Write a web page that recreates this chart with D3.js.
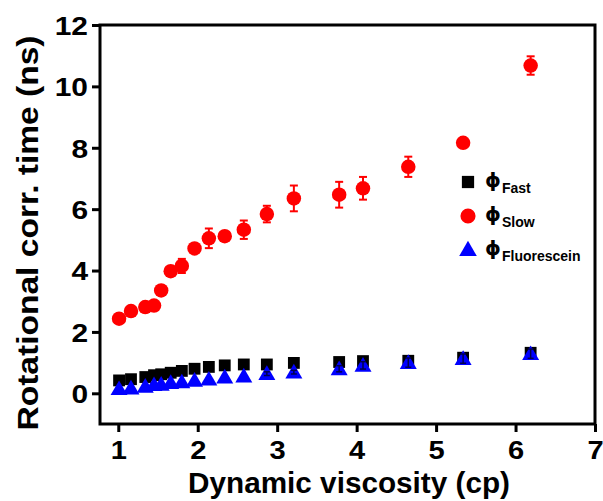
<!DOCTYPE html>
<html>
<head>
<meta charset="utf-8">
<script src="https://cdn.jsdelivr.net/npm/d3@7"></script>
<style>
  html, body { margin: 0; padding: 0; background: #fff; }
  svg { display: block; }
</style>
</head>
<body>
<svg id="chart" width="603" height="501"></svg>
<script>
// ---- data ----
const viscosity = [1.01, 1.16, 1.34, 1.45, 1.54, 1.66, 1.80, 1.96, 2.14, 2.34, 2.58, 2.87, 3.21, 3.78, 4.08, 4.65, 5.34, 6.19];
const phiSlow    = [2.43, 2.68, 2.81, 2.86, 3.35, 3.98, 4.15, 4.72, 5.05, 5.12, 5.33, 5.84, 6.35, 6.47, 6.68, 7.38, 8.16, 10.68];
const phiSlowErr = [0.05, 0.05, 0.05, 0.05, 0.05, 0.05, 0.23, 0.05, 0.32, 0.12, 0.30, 0.27, 0.42, 0.42, 0.37, 0.33, 0.12, 0.30];
const phiFast    = [0.42, 0.46, 0.53, 0.59, 0.62, 0.67, 0.73, 0.80, 0.86, 0.91, 0.94, 0.94, 0.99, 1.02, 1.05, 1.06, 1.16, 1.32];
const phiFluor   = [0.15, 0.17, 0.23, 0.28, 0.29, 0.35, 0.37, 0.42, 0.46, 0.53, 0.56, 0.64, 0.69, 0.80, 0.91, 1.00, 1.13, 1.29];
const phiFluorErr= [0, 0, 0, 0, 0, 0, 0, 0, 0, 0, 0, 0.06, 0.06, 0.1, 0.12, 0.15, 0.15, 0.15];
const xTicks = [1, 2, 3, 4, 5, 6, 7];
const yTicks = [0, 2, 4, 6, 8, 10, 12];
const legendLabels = ["Fast", "Slow", "Fluorescein"];

const rows = viscosity.map((v, i) => ({
  x: v, slow: phiSlow[i], slowErr: phiSlowErr[i],
  fast: phiFast[i], fluor: phiFluor[i], fluorErr: phiFluorErr[i]
}));

const svg = d3.select("#chart");
const mL = 100, mR = 595, mT = 25, mB = 424;
const x = d3.scaleLinear().domain([0.77, 7]).range([mL, mR]);
const y = d3.scaleLinear().domain([-1, 12]).range([mB, mT]);
const font = "'Liberation Sans', Arial, sans-serif";

// frame
svg.append("rect").attr("x", mL).attr("y", mT)
  .attr("width", mR - mL).attr("height", mB - mT)
  .attr("fill", "none").attr("stroke", "#000").attr("stroke-width", 3);

// axes
const xAxis = svg.append("g").attr("transform", `translate(0,${mB})`)
  .call(d3.axisBottom(x).tickValues(xTicks).tickSize(8).tickSizeOuter(0).tickPadding(8).tickFormat(d3.format("d")));
const yAxis = svg.append("g").attr("transform", `translate(${mL},0)`)
  .call(d3.axisLeft(y).tickValues(yTicks).tickSize(8).tickSizeOuter(0).tickPadding(6).tickFormat(d3.format("d")));
[xAxis, yAxis].forEach(g => {
  g.select(".domain").remove();
  g.selectAll(".tick line").attr("stroke", "#000").attr("stroke-width", 3);
  g.selectAll(".tick text").attr("fill", "#000")
    .style("font-family", font).style("font-weight", "bold").style("font-size", "26px");
});
// horizontally widen tick labels (heavy face in reference)
xAxis.selectAll(".tick text").attr("y", 0).attr("dy", null)
  .attr("transform", "translate(0,35) scale(1.12,1)");
yAxis.selectAll(".tick text").attr("x", 0).attr("dy", "0.36em")
  .attr("transform", "translate(-12,0) scale(1.15,1)");

// axis titles
svg.append("text").attr("x", 349).attr("y", 493).attr("text-anchor", "middle")
  .attr("textLength", 322).attr("lengthAdjust", "spacingAndGlyphs")
  .style("font-family", font).style("font-weight", "bold").style("font-size", "29px")
  .text("Dynamic viscosity (cp)");
svg.append("text").attr("transform", `translate(38,233) rotate(-90)`).attr("text-anchor", "middle")
  .attr("textLength", 395).attr("lengthAdjust", "spacingAndGlyphs")
  .style("font-family", font).style("font-weight", "bold").style("font-size", "30px")
  .text("Rotational corr. time (ns)");

const plot = svg.append("g");

// slow error bars
const capW = 4;
const eb = plot.append("g").attr("stroke", "#ff0000").attr("stroke-width", 2);
rows.forEach(d => {
  const cx = x(d.x), y1 = y(d.slow + d.slowErr), y2 = y(d.slow - d.slowErr);
  eb.append("line").attr("x1", cx).attr("x2", cx).attr("y1", y1).attr("y2", y2);
  eb.append("line").attr("x1", cx - capW).attr("x2", cx + capW).attr("y1", y1).attr("y2", y1);
  eb.append("line").attr("x1", cx - capW).attr("x2", cx + capW).attr("y1", y2).attr("y2", y2);
});

// markers
const sq = d3.symbol().type(d3.symbolSquare).size(140);
const ci = d3.symbol().type(d3.symbolCircle).size(165);
const tr = d3.symbol().type(d3.symbolTriangle).size(125);

plot.append("g").selectAll("path").data(rows).join("path")
  .attr("d", sq).attr("transform", d => `translate(${x(d.x)},${y(d.fast)})`).attr("fill", "#000");
plot.append("g").selectAll("path").data(rows).join("path")
  .attr("d", ci).attr("transform", d => `translate(${x(d.x)},${y(d.slow)})`).attr("fill", "#ff0000");
plot.append("g").selectAll("path").data(rows).join("path")
  .attr("d", tr).attr("transform", d => `translate(${x(d.x)},${y(d.fluor) + 1.5})`).attr("fill", "#0000ff");

// fluorescein error bars (dark, on top)
const eb2 = plot.append("g").attr("stroke", "#000050").attr("stroke-width", 1.5);
rows.filter(d => d.fluorErr > 0).forEach(d => {
  const cx = x(d.x), y1 = y(d.fluor + d.fluorErr), y2 = y(d.fluor - d.fluorErr);
  eb2.append("line").attr("x1", cx).attr("x2", cx).attr("y1", y1).attr("y2", y2);
  eb2.append("line").attr("x1", cx - 3).attr("x2", cx + 3).attr("y1", y1).attr("y2", y1);
  eb2.append("line").attr("x1", cx - 3).attr("x2", cx + 3).attr("y1", y2).attr("y2", y2);
});

// legend
const legend = svg.append("g").attr("transform", "translate(468,182)");
const symbols = [
  { sym: d3.symbol().type(d3.symbolSquare).size(150), fill: "#000" },
  { sym: d3.symbol().type(d3.symbolCircle).size(180), fill: "#ff0000" },
  { sym: d3.symbol().type(d3.symbolTriangle).size(135), fill: "#0000ff" }
];
legendLabels.forEach((lab, i) => {
  const g = legend.append("g").attr("transform", `translate(0,${i * 34})`);
  g.append("path").attr("d", symbols[i].sym).attr("fill", symbols[i].fill)
    .attr("transform", i === 2 ? "translate(0,1)" : null);
  const t = g.append("text").attr("x", 17).attr("y", 5).attr("fill", "#000");
  t.append("tspan").style("font-family", "'DejaVu Sans', sans-serif").style("font-weight", "bold").style("font-size", "20px").text("ϕ");
  t.append("tspan").attr("dy", 6).attr("dx", 1)
    .style("font-family", font).style("font-weight", "bold").style("font-size", "14px").text(lab);
});
</script>
</body>
</html>
